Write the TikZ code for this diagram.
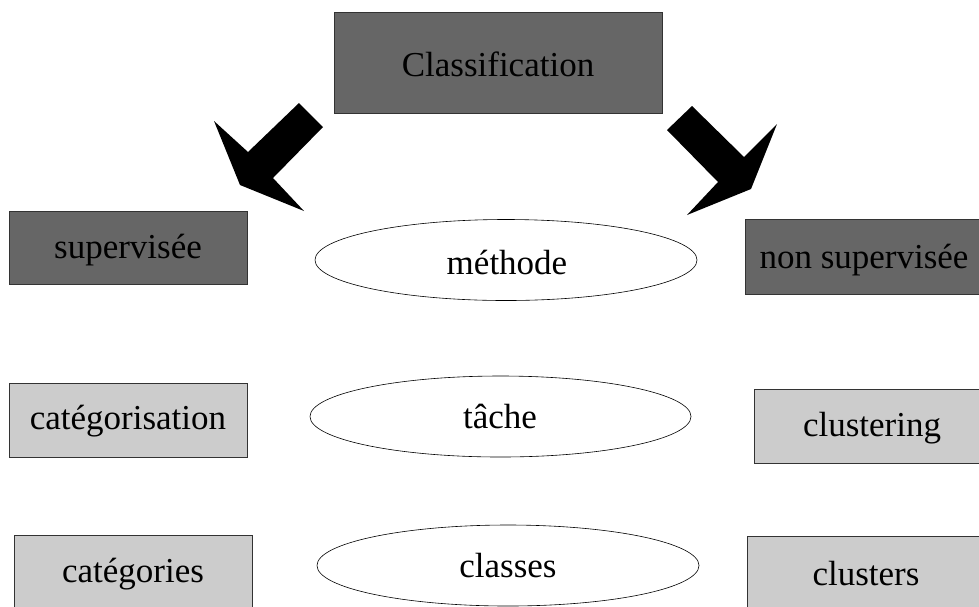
\documentclass[tikz,border=0pt]{standalone}
\usepackage{fontspec}
\setmainfont{Liberation Serif}
\usetikzlibrary{shapes.geometric}
\definecolor{darkbox}{HTML}{666666}
\definecolor{lightbox}{HTML}{CCCCCC}
\definecolor{edgec}{HTML}{333333}
\begin{document}
\begin{tikzpicture}[x=1pt,y=-1pt,
  txt/.style={font=\fontsize{35}{42}\selectfont, text=black, inner sep=0pt},
  darkrect/.style={draw=edgec, line width=0.8pt, fill=darkbox},
  lightrect/.style={draw=edgec, line width=0.8pt, fill=lightbox},
  ell/.style={draw=black, line width=0.6pt, fill=white},
  bigarrow/.style={fill=black, draw=none}]
\useasboundingbox (0,0) rectangle (979,606);
\clip (0,0) rectangle (979,606);
% boxes
\draw[darkrect] (334,12) rectangle (662,113);
\node[txt] (classif) at (498,64) {Classification};
\draw[darkrect] (9,211) rectangle (247,284);
\node[txt] (sup) at (128,250) {supervisée};
\draw[darkrect] (745,219) rectangle (990,294);
\node[txt] (nonsup) at (864,260) {non supervisée};
\draw[lightrect] (9,383) rectangle (247,457);
\node[txt] (categ) at (128,421) {catégorisation};
\draw[lightrect] (754,389) rectangle (990,463);
\node[txt] (clust) at (872,428) {clustering};
\draw[lightrect] (14,535) rectangle (252,620);
\node[txt] (cats) at (133,574) {catégories};
\draw[lightrect] (747,536) rectangle (990,620);
\node[txt] (clusters) at (866,574) {clusters};
% ellipses
\draw[ell] (506,260) ellipse [x radius=191, y radius=40.5];
\node[txt] (meth) at (507,262) {méthode};
\draw[ell] (500.5,416.5) ellipse [x radius=190.5, y radius=40.5];
\node[txt] (tache) at (500,416) {tâche};
\draw[ell] (508,565.5) ellipse [x radius=191, y radius=40.5];
\node[txt] (classes) at (508,566) {classes};
% big arrows
\fill[bigarrow] (299,103) -- (323,127) -- (273,178) -- (304,211) -- (240,185) -- (214,121) -- (248,152) -- cycle;
\fill[bigarrow] (692,106) -- (744,157) -- (777,124) -- (751,189) -- (687,215) -- (718,182) -- (667,130) -- cycle;
\end{tikzpicture}
\end{document}
